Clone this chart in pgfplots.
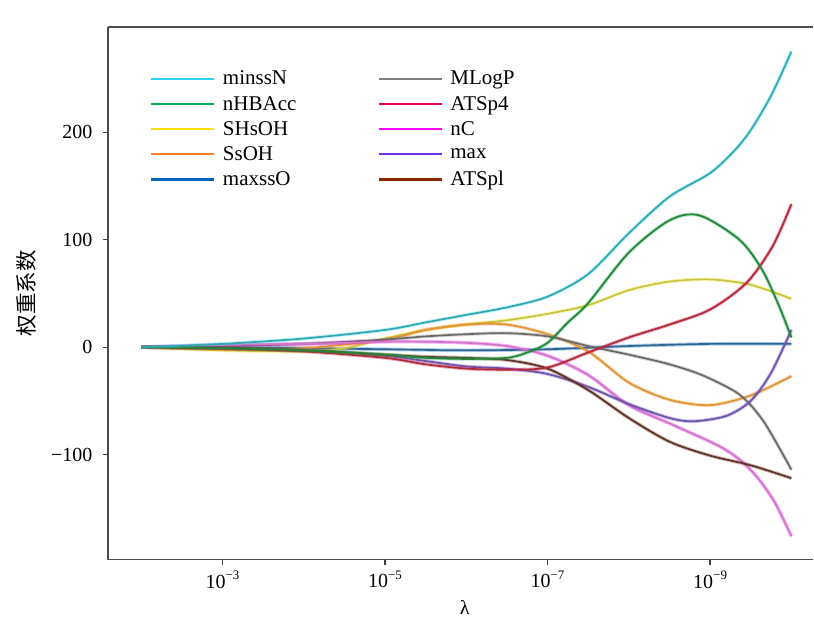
\documentclass[border=0pt]{standalone}
\usepackage{fontspec}
\setmainfont{Liberation Serif}
\newfontfamily\cjk{Noto Sans CJK SC}
\usepackage{pgfplots}
\pgfplotsset{compat=1.18}
% plot colours (muted core)
\definecolor{cA}{RGB}{50,168,172}
\definecolor{cB}{RGB}{40,130,55}
\definecolor{cC}{RGB}{196,196,70}
\definecolor{cD}{RGB}{222,150,50}
\definecolor{cE}{RGB}{50,100,145}
\definecolor{cF}{RGB}{105,105,105}
\definecolor{cG}{RGB}{170,45,50}
\definecolor{cH}{RGB}{205,120,195}
\definecolor{cI}{RGB}{105,88,160}
\definecolor{cJ}{RGB}{85,52,50}
% legend colours (bright)
\definecolor{lA}{RGB}{40,210,250}
\definecolor{lB}{RGB}{0,176,80}
\definecolor{lC}{RGB}{255,224,0}
\definecolor{lD}{RGB}{255,127,39}
\definecolor{lE}{RGB}{0,100,190}
\definecolor{lF}{RGB}{127,127,127}
\definecolor{lG}{RGB}{230,0,90}
\definecolor{lH}{RGB}{255,0,255}
\definecolor{lI}{RGB}{112,48,224}
\definecolor{lJ}{RGB}{139,37,0}
\newcommand{\tenpow}[1]{10\raisebox{0.42em}{\fontsize{13}{13}\selectfont #1}}
\pgfplotsset{halo/.style={preaction={draw=#1, draw opacity=0.33, line width=3.6pt}}}
\begin{document}
\begin{tikzpicture}
\begin{axis}[
  scale only axis, width=706pt, height=533pt,
  xmin=1.59, xmax=10.27, ymin=-197.7, ymax=298,
  axis x line*=box, axis y line*=left,
  axis line style={draw=black!70, line width=1.4pt, -},
  tick align=outside, tick pos=left, major tick length=5pt,
  tick style={black!75, line width=1.2pt},
  xtick={3,5,7,9},
  xticklabels={\tenpow{−3},\tenpow{−5},\tenpow{−7},\tenpow{−9}},
  ytick={-100,0,100,200},
  yticklabels={−100,0,100,200},
  ticklabel style={font=\fontsize{20}{24}\selectfont},
  yticklabel style={xshift=-7pt},
  xticklabel style={yshift=-3pt},
  xlabel={λ},
  xlabel style={at={(axis description cs:0.506,-0.09)}, anchor=center, font=\fontsize{20}{24}\selectfont},
  ylabel={\cjk 权重系数},
  ylabel style={at={(axis description cs:-0.115,0.5)}, anchor=center, font=\fontsize{21.5}{26}\selectfont},
  legend columns=2,
  legend cell align=left,
  legend style={draw=none, fill=none, at={(axis description cs:0.055,0.925)}, anchor=north west,
    font=\fontsize{21}{25}\selectfont, row sep=5.7pt,
    /tikz/every even column/.append style={column sep=79pt}},
  legend image code/.code={\draw[#1, line width=2.6pt] (0pt,0pt) -- (63pt,0pt); \path (69pt,0pt);},
  every axis plot/.append style={line width=1.7pt, smooth, tension=0.5},
]
\addlegendimage{lA}\addlegendentry{minssN}
\addlegendimage{lF}\addlegendentry{MLogP}
\addlegendimage{lB}\addlegendentry{nHBAcc}
\addlegendimage{lG}\addlegendentry{ATSp4}
\addlegendimage{lC}\addlegendentry{SHsOH}
\addlegendimage{lH}\addlegendentry{nC}
\addlegendimage{lD}\addlegendentry{SsOH}
\addlegendimage{lI}\addlegendentry{max}
\addlegendimage{lE}\addlegendentry{maxssO}
\addlegendimage{lJ}\addlegendentry{ATSpl}
% maxssO
\addplot[cE, halo=lE, forget plot] coordinates {(2,0) (3,0) (4,-1) (5,-2) (6,-3) (7,-2) (8,1) (9,3) (10,3)};
% SHsOH
\addplot[cC, halo=lC, forget plot] coordinates {(2,0) (3,-3) (4,-4) (4.5,-1) (5,8) (5.5,16) (6,21) (6.5,25) (7,31) (7.5,39) (8,53) (8.5,61) (9,63) (9.5,58) (10,45)};
% SsOH
\addplot[cD, halo=lD, forget plot] coordinates {(2,0) (3,-2) (4,-1) (5,7) (5.5,16) (6,21) (6.5,21) (7,12) (7.5,-4) (8,-33) (8.5,-49) (9,-54) (9.5,-45) (10,-27)};
% MLogP
\addplot[cF, halo=lF, forget plot] coordinates {(2,0) (3,1) (4,3) (5,7) (5.5,10) (6,12) (6.5,13) (7,10) (7.5,1) (8,-7) (8.5,-16) (8.9,-26) (9.3,-41) (9.5,-54) (9.7,-74) (10,-114)};
% nC
\addplot[cH, halo=lH, forget plot] coordinates {(2,0) (3,2) (4,3) (5,5) (5.5,5) (6,4) (6.5,1) (7,-8) (7.5,-26) (8,-54) (8.5,-71) (9,-88) (9.2,-96) (9.4,-107) (9.6,-123) (9.8,-145) (10,-176)};
% max
\addplot[cI, halo=lI, forget plot] coordinates {(2,0) (3,-1) (4,-3) (5,-8) (5.5,-13) (6,-18) (6.5,-20) (7,-25) (7.5,-37) (8,-53) (8.5,-66) (8.8,-69) (9.2,-64) (9.5,-50) (9.75,-24) (10,16)};
% ATSpl
\addplot[cJ, halo=lJ, forget plot] coordinates {(2,0) (3,-1) (4,-3) (5,-7) (5.5,-9) (6,-10) (6.5,-12) (7,-20) (7.5,-40) (8,-66) (8.5,-88) (9,-101) (9.5,-110) (10,-122)};
% ATSp4
\addplot[cG, halo=lG, forget plot] coordinates {(2,0) (3,-1) (4,-4) (5,-10) (5.5,-16) (6,-20) (6.5,-21) (7,-19) (7.5,-5) (8,9) (8.5,21) (9,35) (9.45,60) (9.77,94) (10,133)};
% nHBAcc
\addplot[cB, halo=lB, forget plot] coordinates {(2,0) (3,-1) (4,-3) (5,-7) (5.5,-10) (6,-11) (6.5,-10) (6.75,-5) (7,4) (7.25,23) (7.5,41) (8,88) (8.5,118) (8.87,122.6) (9.36,100) (9.64,72) (9.85,38) (10,9)};
% minssN
\addplot[cA, halo=lA, forget plot] coordinates {(2,0) (3,3) (4,8) (5,16) (5.5,23) (6,30) (6.5,37) (7,47) (7.5,68) (8,106) (8.5,140) (9,162) (9.3,183) (9.5,202) (9.75,234) (10,275)};
\end{axis}
\path (current axis.south west) ++(-108pt,-62pt) coordinate (bbA);
\path (current axis.north east) ++(0.5pt,27pt) coordinate (bbB);
\path (bbA) rectangle (bbB);
\end{tikzpicture}
\end{document}
